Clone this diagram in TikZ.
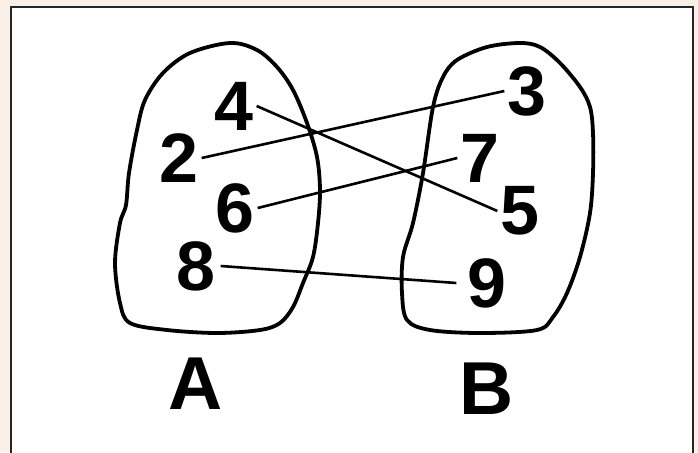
\documentclass[tikz,border=0pt]{standalone}
\usepackage{fontspec}
\setmainfont{Liberation Sans}
\definecolor{peach}{RGB}{250,240,232}
\begin{document}
\begin{tikzpicture}[x=1pt,y=-1pt,
  num/.style={font=\fontsize{70}{80}\selectfont\bfseries, inner sep=3pt},
  lab/.style={font=\fontsize{75}{85}\selectfont\bfseries, inner sep=0pt},
  blob/.style={line width=3.8pt, line join=round},
  link/.style={line width=2.6pt}]
\useasboundingbox (0,0) rectangle (698,452);
\fill[peach] (0,0) rectangle (698,452);
\draw[line width=2pt, fill=white, draw=black!85] (11,7) rectangle (693,470);
% left set
\draw[blob] plot[smooth cycle, tension=0.55] coordinates {
 (230,43) (257,50) (277,67) (293,90) (307,123) (317,157) (320,190) (318,223)
 (313,257) (303,283) (293,307) (280,323) (260,330) (217,333) (167,330) (130,323)
 (120,303) (115,263) (120,223) (126,205) (129,173) (137,130) (145,100) (163,73) (190,53)};
% right set
\draw[blob] plot[smooth cycle, tension=0.55] coordinates {
 (520,43) (540,47) (560,63) (580,87) (590,107) (593,133) (593,173) (590,213)
 (580,257) (567,293) (553,317) (537,330) (480,333) (430,330) (407,320) (402,293)
 (403,257) (413,223) (423,173) (433,107) (443,77) (457,60) (487,47)};
% numbers
\node[num] (n4) at (234,106) {4};
\node[num] (n2) at (179,158) {2};
\node[num] (n6) at (235,208) {6};
\node[num] (n8) at (196,266) {8};
\node[num] (n3) at (527,91) {3};
\node[num] (n7) at (480,158) {7};
\node[num] (n5) at (520,211) {5};
\node[num] (n9) at (487,283) {9};
\node[lab] (A) at (196,384) {A};
\node[lab] (B) at (487,389) {B};
% links
\draw[link] (n2.east) -- (n3.west);
\draw[link] (n4.east) -- (n5.west);
\draw[link] (n6.east) -- (n7.west);
\draw[link] ([xshift=2pt]n8.east) -- ([xshift=-8pt]n9.west);
\end{tikzpicture}
\end{document}
